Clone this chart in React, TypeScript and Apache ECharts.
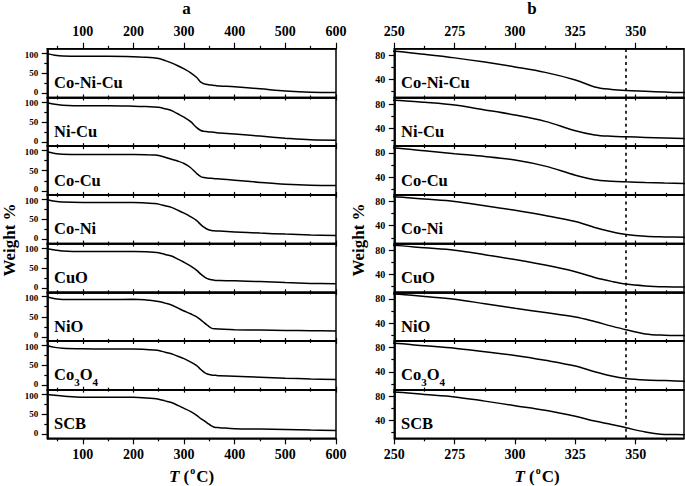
import React, { useEffect, useRef } from "react";
import * as echarts from "echarts";

const TEMPS = [30, 45, 60, 100, 150, 200, 225, 240, 250, 262.5, 275, 287.5, 300, 312.5, 325, 333, 340, 346, 354, 362, 370, 400, 450, 500, 550, 600];

// Weight % for each sample
const CO_NI_CU = [99, 95, 93, 92.5, 92.5, 91.5, 90, 88.5, 87, 81.8, 76, 69, 61, 52, 39.5, 28, 23.8, 22, 20.8, 19.6, 18.6, 16.5, 11.5, 6, 3, 2.5];
const NI_CU = [98, 94, 92, 90.5, 90.5, 89.5, 88.5, 87.5, 86.5, 83, 78.5, 70.5, 62, 51.5, 36, 29, 26.8, 26, 25, 24, 23, 20, 15, 10, 6, 5];
const CO_CU = [97, 93, 91, 90.5, 90.5, 90.5, 90, 89, 88, 83.5, 78.5, 74, 68, 58, 43, 35.5, 33, 32, 31, 30.2, 29.5, 26.5, 21, 16.5, 14, 13.5];
const CO_NI = [99, 95, 93, 92, 92, 92, 91, 89.5, 88, 84, 80, 73, 65.5, 57, 47, 37, 30, 25.5, 22.5, 21.5, 21, 19, 16, 13.5, 11.5, 10];
const CUO = [98, 95, 92.5, 91, 91, 91, 90.5, 89.5, 88, 84, 80, 72.5, 64.5, 55.5, 44.5, 35, 28.5, 24, 21, 19.5, 19, 18.5, 16.5, 14, 12, 11];
const NIO = [99, 95, 93, 93, 93, 93.5, 92, 90, 88, 84, 79.5, 72, 64.5, 57.5, 50, 42.5, 35, 29, 22, 20, 19.5, 18, 17, 16, 15.5, 15];
const CO3O4 = [99, 95, 93, 91.5, 91, 91, 90, 88.5, 87, 83, 79, 73, 67, 59, 49.5, 40, 33, 29, 26.5, 25.5, 24.5, 23.5, 21, 18.5, 16.5, 15];
const SCB = [99, 97, 95, 92, 92, 92, 90.5, 89, 87, 83, 79, 72, 64.5, 57, 47, 39, 33.5, 28, 21, 17, 16.5, 14, 13, 12, 10.5, 9.5];

const SERIES_VALUES = [CO_NI_CU, NI_CU, CO_CU, CO_NI, CUO, NIO, CO3O4, SCB];
const SAMPLE_NAMES = ["Co-Ni-Cu", "Ni-Cu", "Co-Cu", "Co-Ni", "CuO", "NiO", "Co3O4", "SCB"];
const SAMPLE_LABELS = ["Co-Ni-Cu", "Ni-Cu", "Co-Cu", "Co-Ni", "CuO", "NiO", "{n|Co}{s|3}{n|O}{s|4}", "SCB"];

// Axis ticks
const LEFT_X_MAJOR = [100, 200, 300, 400, 500, 600];
const LEFT_X_MINOR = [50, 150, 250, 350, 450, 550];
const RIGHT_X_MAJOR = [250, 275, 300, 325, 350];
const RIGHT_X_MINOR = [262.5, 287.5, 312.5, 337.5, 362.5];
const LEFT_Y_MAJOR = [0, 50, 100];
const LEFT_Y_MINOR = [25, 75];
const RIGHT_Y_MAJOR = [40, 80];
const RIGHT_Y_MINOR = [20, 60];
const DASH_T = 346;
const PANEL_TITLES = ["a", "b"];

const FONT = '"Liberation Serif", "Times New Roman", serif';

const PANELS = [
  { left: 47.3, width: 288.7, xMin: 30, xMax: 600, yMin: -10, yMax: 111, xMajor: LEFT_X_MAJOR, xMinor: LEFT_X_MINOR, yMajor: LEFT_Y_MAJOR, yMinor: LEFT_Y_MINOR, center: 191.5, labelX: 54, dashed: false, yFont: 9 },
  { left: 394.3, width: 289.7, xMin: 250, xMax: 370, yMin: 10.5, yMax: 91, xMajor: RIGHT_X_MAJOR, xMinor: RIGHT_X_MINOR, yMajor: RIGHT_Y_MAJOR, yMinor: RIGHT_Y_MINOR, center: 537, labelX: 401, dashed: true, yFont: 10 },
];
const TOP = 48.8;
const ROW_H = 48.69;

function buildOption() {
  const grid: any[] = [];
  const xAxis: any[] = [];
  const yAxis: any[] = [];
  const series: any[] = [];
  const graphic: any[] = [];
  const black = "#000";

  PANELS.forEach((P, p) => {
    const yMaxTick = P.yMajor[P.yMajor.length - 1];
    const yMinTick = P.yMajor[0];
    const yRichBase = { fontFamily: FONT, fontWeight: "bold", fontSize: P.yFont, color: black, lineHeight: P.yFont };
    const yRich = {
      lo: { ...yRichBase, padding: p === 0 ? [0, 0, 3, 0] : 0 },
      hi: { ...yRichBase, padding: p === 0 ? [3, 0, 0, 0] : 0 },
      m: { ...yRichBase },
    };
    const yFormatter = (v: number) => (v === yMinTick ? `{lo|${v}}` : v === yMaxTick ? `{hi|${v}}` : `{m|${v}}`);

    for (let i = 0; i < 8; i++) {
      const g = grid.length;
      const isFirst = i === 0;
      const isLast = i === 7;
      grid.push({ left: P.left, top: TOP + i * ROW_H, width: P.width, height: ROW_H, show: true, borderColor: black, borderWidth: 1.5, backgroundColor: "transparent" });
      const baseX = { gridIndex: g, type: "value", min: P.xMin, max: P.xMax, splitLine: { show: false } };
      const xLabel = (show: boolean, margin: number) => ({ show, customValues: P.xMajor, margin, color: black, fontFamily: FONT, fontWeight: "bold", fontSize: 14 });
      const majorBottom = xAxis.length;
      xAxis.push({ ...baseX, position: "bottom", axisLine: { show: true, onZero: false, lineStyle: { color: black, width: 1.5 } }, axisTick: { show: true, inside: false, length: isLast ? 6 : 3, customValues: P.xMajor, lineStyle: { color: black, width: 1.2 } }, axisLabel: xLabel(isLast, 9) });
      xAxis.push({ ...baseX, position: "bottom", axisLine: { show: false, onZero: false }, axisTick: { show: true, inside: false, length: isLast ? 3 : 2, customValues: P.xMinor, lineStyle: { color: black, width: 1.2 } }, axisLabel: { show: false } });
      xAxis.push({ ...baseX, position: "top", axisLine: { show: true, onZero: false, lineStyle: { color: black, width: 1.5 } }, axisTick: { show: true, inside: false, length: isFirst ? 6 : 3, customValues: P.xMajor, lineStyle: { color: black, width: 1.2 } }, axisLabel: xLabel(isFirst, 10) });
      xAxis.push({ ...baseX, position: "top", axisLine: { show: false, onZero: false }, axisTick: { show: true, inside: false, length: isFirst ? 3 : 2, customValues: P.xMinor, lineStyle: { color: black, width: 1.2 } }, axisLabel: { show: false } });

      const baseY = { gridIndex: g, type: "value", min: P.yMin, max: P.yMax, position: "left", splitLine: { show: false } };
      const majorY = yAxis.length;
      yAxis.push({ ...baseY, axisLine: { show: true, onZero: false, lineStyle: { color: black, width: 1.8 } }, axisTick: { show: true, inside: false, length: 5.5, customValues: P.yMajor, lineStyle: { color: black, width: 1.2 } }, axisLabel: { show: true, customValues: P.yMajor, margin: 9, color: black, fontFamily: FONT, fontWeight: "bold", fontSize: P.yFont, formatter: yFormatter, rich: yRich } });
      yAxis.push({ ...baseY, axisLine: { show: false, onZero: false }, axisTick: { show: true, inside: false, length: 3, customValues: P.yMinor, lineStyle: { color: black, width: 1.2 } }, axisLabel: { show: false } });

      const vals = SERIES_VALUES[i];
      const s: any = {
        type: "line",
        name: SAMPLE_NAMES[i] + (p === 0 ? " (a)" : " (b)"),
        xAxisIndex: majorBottom,
        yAxisIndex: majorY,
        data: TEMPS.map((t, k) => [t, vals[k]]),
        symbol: "none",
        showSymbol: false,
        smooth: 0.35,
        clip: true,
        silent: true,
        lineStyle: { color: black, width: 1.5 },
      };
      if (P.dashed) {
        s.markLine = {
          silent: true,
          symbol: ["none", "none"],
          label: { show: false },
          lineStyle: { color: black, width: 1.6, type: [3, 3.5] },
          data: [{ xAxis: DASH_T }],
        };
      }
      series.push(s);

      graphic.push({
        type: "text",
        left: P.labelX,
        top: TOP + i * ROW_H + 34.5 - 9,
        silent: true,
        style: {
          text: SAMPLE_LABELS[i],
          fill: black,
          font: `bold 16.5px ${FONT}`,
          rich: {
            n: { fontFamily: FONT, fontWeight: "bold", fontSize: 16.5, fill: black, verticalAlign: "top", lineHeight: 18 },
            s: { fontFamily: FONT, fontWeight: "bold", fontSize: 11, fill: black, padding: [10, 0, 0, 0], verticalAlign: "top", lineHeight: 12 },
          },
        },
      });
    }

    graphic.push({
      type: "text",
      x: P.center - 5,
      y: 0,
      silent: true,
      style: { text: PANEL_TITLES[p], fill: black, font: `bold 17px ${FONT}`, textAlign: "center", textVerticalAlign: "top" },
    });
    graphic.push({
      type: "text",
      x: p === 0 ? 9 : 358.5,
      y: 240,
      rotation: Math.PI / 2,
      silent: true,
      style: { text: "Weight %", fill: black, font: `bold 17px ${FONT}`, textAlign: "center", textVerticalAlign: "middle" },
    });
    graphic.push({
      type: "text",
      x: P.center,
      y: 475,
      silent: true,
      style: {
        text: "{t|T} {n|(}{o|o}{n|C)}",
        textAlign: "center",
        textVerticalAlign: "middle",
        fill: black,
        font: `bold 17px ${FONT}`,
        rich: {
          t: { fontFamily: FONT, fontWeight: "bold", fontStyle: "italic", fontSize: 17, fill: black, verticalAlign: "bottom", lineHeight: 20 },
          n: { fontFamily: FONT, fontWeight: "bold", fontSize: 17, fill: black, verticalAlign: "bottom", lineHeight: 20 },
          o: { fontFamily: FONT, fontWeight: "bold", fontSize: 10, fill: black, verticalAlign: "top", lineHeight: 20, padding: [0, 1, 8, 1] },
        },
      },
    });
  });

  return { animation: false, backgroundColor: "#fff", grid, xAxis, yAxis, series, graphic };
}

export default function App() {
  const ref = useRef<HTMLDivElement>(null);
  useEffect(() => {
    document.body.style.margin = "0";
    if (!ref.current) return;
    const chart = echarts.init(ref.current, undefined, { renderer: "svg" });
    chart.setOption(buildOption() as any);
    return () => chart.dispose();
  }, []);
  return <div ref={ref} style={{ width: 685, height: 486 }} />;
}
